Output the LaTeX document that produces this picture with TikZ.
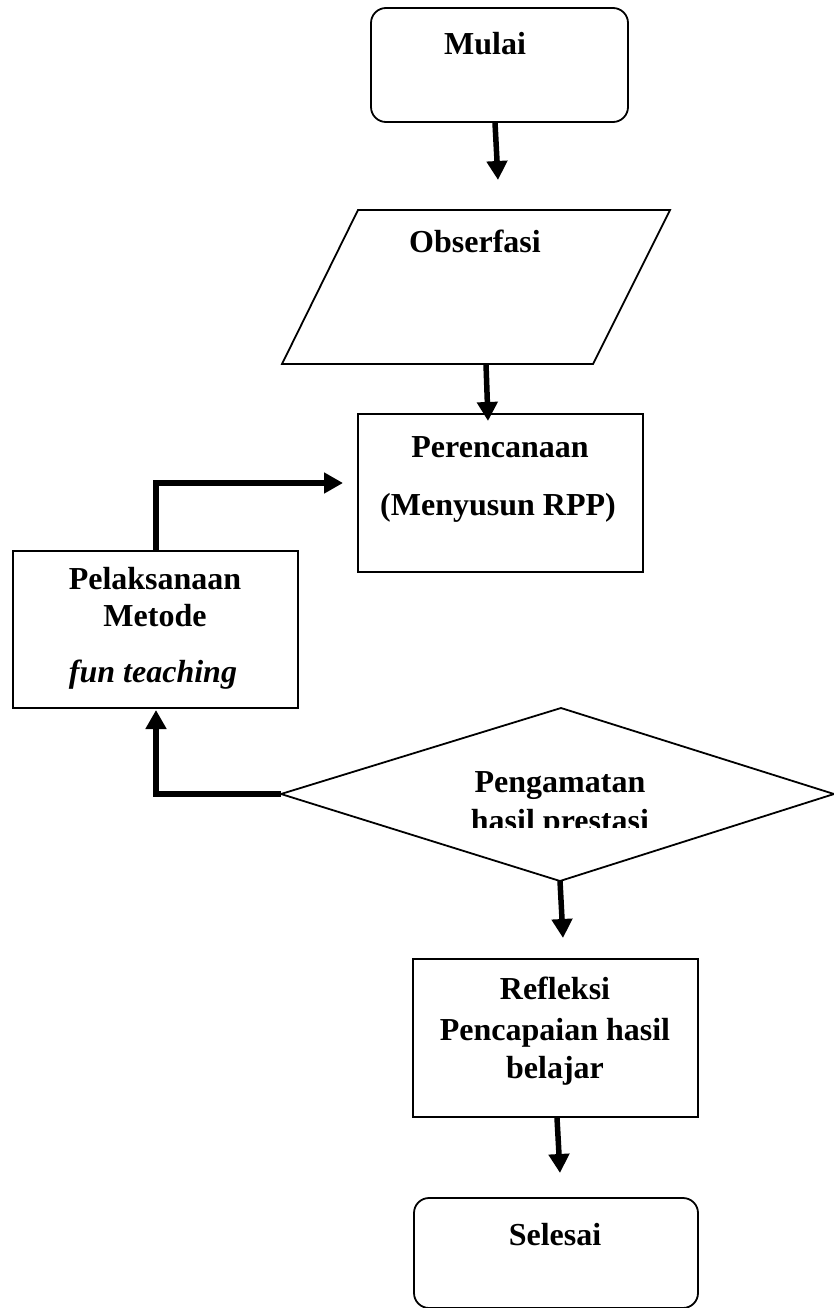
\documentclass[tikz,border=0pt]{standalone}
\usepackage{fontspec}
\setmainfont{Liberation Serif}
\usetikzlibrary{arrows.meta,calc}
\begin{document}
\begin{tikzpicture}[x=1pt,y=-1pt,
  shapeline/.style={draw=black,line width=1.8pt},
  boxnode/.style={shapeline,rectangle,inner sep=0pt,minimum width=285pt,minimum height=158pt},
  roundnode/.style={shapeline,rectangle,rounded corners=15pt,inner sep=0pt},
  flow/.style={line width=5.5pt,-{Triangle[length=19pt,width=20pt]}},
  txt/.style={anchor=base,inner sep=0pt,font=\fontsize{32}{38}\selectfont\bfseries},
  itxt/.style={anchor=base,inner sep=0pt,font=\fontsize{32}{38}\selectfont\bfseries\itshape}]
\useasboundingbox (0,0) rectangle (834,1308);
\fill[white] (0,0) rectangle (834,1308);

% Mulai
\node[roundnode,minimum width=257pt,minimum height=114pt] (mulai) at (499.5,65) {};
\node[txt] (tmulai) at (485,55) {Mulai};

% Obserfasi parallelogram
\coordinate (obsTL) at (358,210);
\coordinate (obsTR) at (670,210);
\coordinate (obsBR) at (593,364);
\coordinate (obsBL) at (282,364);
\draw[shapeline,line join=miter] (obsTL) -- (obsTR) -- (obsBR) -- (obsBL) -- cycle;
\coordinate (obsout) at (486,364);
\node[txt] (tobs) at (475,252) {Obserfasi};

% Perencanaan
\node[boxnode] (plan) at (500.5,493) {};
\node[txt] (tplan1) at (500,457) {Perencanaan};
\node[txt] (tplan2) at (498,515) {(Menyusun RPP)};

% Pelaksanaan
\node[boxnode,minimum height=157pt] (pel) at (155.5,629.5) {};
\node[txt] (tpel1) at (155,589) {Pelaksanaan};
\node[txt] (tpel2) at (155,626) {Metode};
\node[itxt] (tpel3) at (153,682) {fun teaching};

% Diamond
\coordinate (dT) at (561,708);
\coordinate (dR) at (834,794);
\coordinate (dB) at (560,881);
\coordinate (dL) at (281,794);
\draw[shapeline,line join=miter] (dT) -- (dR) -- (dB) -- (dL) -- cycle;
\begin{scope}
\clip (400,700) rectangle (720,827);
\node[txt] (tdia1) at (560,792) {Pengamatan};
\node[txt] (tdia2) at (560,831) {hasil prestasi};
\end{scope}

% Refleksi
\node[boxnode] (refl) at (555.5,1038) {};
\node[txt] (trefl1) at (555,999) {Refleksi};
\node[txt] (trefl2) at (555,1040) {Pencapaian hasil};
\node[txt] (trefl3) at (555,1078) {belajar};

% Selesai
\draw[shapeline,rounded corners=15pt] (414,1198) rectangle (698,1308);
\node[txt] (tsel) at (555,1245) {Selesai};

% connectors
\coordinate (a1e) at (498,180);
\draw[flow] ($(mulai.south)+(-4.5,0)$) -- (a1e);
\coordinate (a2e) at (488,421);
\draw[flow] (obsout) -- (a2e);
\coordinate (a3e) at (343,483);
\draw[flow] ($(pel.north)+(0.5,0)$) |- (a3e);
\coordinate (a4e) at (156,710);
\draw[flow] (dL) -| (a4e);
\coordinate (a5e) at (563,938);
\draw[flow] (dB) -- (a5e);
\coordinate (a6e) at (560,1173);
\draw[flow] ($(refl.south)+(1.5,0)$) -- (a6e);
\end{tikzpicture}
\end{document}
